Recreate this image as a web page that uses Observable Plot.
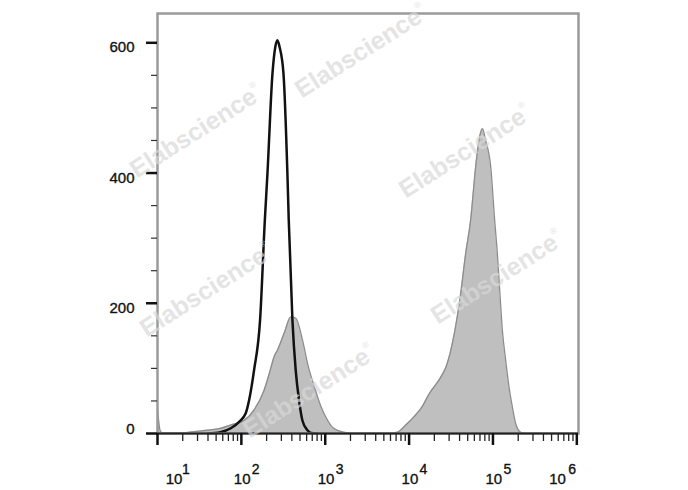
<!DOCTYPE html>
<html><head><meta charset="utf-8">
<script src="https://cdn.jsdelivr.net/npm/d3@7"></script>
<script src="https://cdn.jsdelivr.net/npm/@observablehq/plot@0.6"></script>
<style>
body{margin:0;background:#fff;}
#wrap{position:relative;width:688px;height:490px;overflow:hidden;font-family:"Liberation Sans",Arial,sans-serif;}
#wrap svg{display:block;}
.wm{position:absolute;font-weight:bold;font-size:25px;color:#d9d9d9;opacity:0.69;white-space:nowrap;transform:translate(-50%,-50%) rotate(-32.5deg);pointer-events:none;font-family:"Liberation Sans",Arial,sans-serif;}
.wm sup{font-size:9px;font-weight:normal;vertical-align:14px;}
</style></head><body><div id="wrap"></div>
<script>
// Isotype control (black outline): log10 fluorescence, count
const isoLog   = [1.60, 1.75, 1.874, 1.973, 2.052, 2.092, 2.151, 2.223, 2.28, 2.311, 2.371, 2.405, 2.43, 2.455, 2.502, 2.549, 2.565, 2.609, 2.648, 2.688, 2.728, 2.788, 2.83, 2.90];
const isoCount = [0,    2,    8,     18,    31,    51,    97,    174,   328,  399,   553,   594,   604,  594,   553,   399,   328,   174,   97,    51,    20,    5,     1,    0];

// Stained sample (gray filled): log10 fluorescence, count
const stainLog   = [1.0, 1.012, 1.03, 1.06, 1.30, 1.44, 1.60, 1.75, 1.87, 2.03, 2.15, 2.27, 2.35, 2.39, 2.43, 2.51, 2.59, 2.65, 2.73, 2.79, 2.87, 2.95, 3.03, 3.10, 3.22, 3.35, 3.75, 3.86, 3.96, 4.06, 4.15, 4.24, 4.38, 4.44, 4.54, 4.615, 4.675, 4.734, 4.794, 4.833, 4.874, 4.913, 4.973, 5.02, 5.052, 5.083, 5.112, 5.151, 5.191, 5.231, 5.271, 5.33, 5.38];
const stainCount = [38,  22,    5,    1,    1,    3,    5,    8,    13,   20,   36,   66,   100,  118,  128,  154,  179,  177,  143,  107,  72,   41,   20,   8,    2,    0,    0,    2,    13,   26,   40,   61,   87,   102,  154,  215,   277,   328,   410,   450,   468,   450,   410,   328,  277,   215,   159,   113,   72,    41,    15,    2,    0];

// Axis ticks and labels
const xExponents = [1, 2, 3, 4, 5, 6];
const xMinorMultipliers = [2, 3, 4, 5, 6, 7, 8, 9];
const xMinorDecades = [1, 2, 3, 4, 5];
const yMajor = [0, 200, 400, 600];
const yMinor = [50, 100, 150, 250, 300, 350, 450, 500, 550];
const xBaseLabel = "10";
const watermark = "Elabscience";

const iso = isoLog.map((l, i) => ({x: 10 ** l, y: isoCount[i]}));
const stain = stainLog.map((l, i) => ({x: 10 ** l, y: stainCount[i]}));
const xMajorVals = xExponents.map(e => 10 ** e);
const xMinorVals = xMinorDecades.flatMap(d => xMinorMultipliers.map(m => m * 10 ** d));

const font = "Liberation Sans, Arial, sans-serif";
const txt = {fill: "#111", stroke: "#111", strokeWidth: 0.35};

const chart = Plot.plot({
  width: 688,
  height: 490,
  marginLeft: 157,
  marginRight: 110,
  marginTop: 13,
  marginBottom: 57,
  style: {fontFamily: font, background: "#fff"},
  x: {type: "log", domain: [10, 10 ** 6.02]},
  y: {domain: [0, 645]},
  marks: [
    Plot.areaY(stain, {x: "x", y: "y", fill: "#bfbfbf", curve: "monotone-x"}),
    Plot.lineY(stain, {x: "x", y: "y", stroke: "#8c8c8c", strokeWidth: 1.3, curve: "monotone-x"}),
    Plot.lineY(iso, {x: "x", y: "y", stroke: "#111", strokeWidth: 2.5, curve: "monotone-x"}),
    Plot.frame({stroke: "#9a9a9a", strokeWidth: 2.5}),
    Plot.ruleY([0], {stroke: "#222", strokeWidth: 2}),
    // y ticks
    Plot.axisY(yMinor, {tickSize: 6, stroke: "#333", strokeWidth: 1.2, tickFormat: () => "", label: null}),
    Plot.axisY(yMajor, {tickSize: 11, stroke: "#111", strokeWidth: 2.5, tickFormat: () => "", label: null}),
    Plot.text(yMajor.filter(v => v !== 0), {y: d => d, text: d => String(d), frameAnchor: "left", textAnchor: "end", dx: -23, dy: 4.7, fontSize: 15, ...txt}),
    Plot.text(yMajor.filter(v => v === 0), {y: d => d, text: d => String(d), frameAnchor: "left", textAnchor: "end", dx: -23, dy: -4.7, fontSize: 15, ...txt}),
    // x ticks
    Plot.axisX(xMinorVals, {tickSize: 8, stroke: "#222", strokeWidth: 1.3, tickFormat: () => "", label: null}),
    Plot.axisX(xMajorVals, {tickSize: 12, stroke: "#111", strokeWidth: 2.5, tickFormat: () => "", label: null}),
    // x labels: base "10"
    Plot.text(xExponents.filter(e => e === 1), {x: e => 10 ** e, text: () => xBaseLabel, frameAnchor: "bottom", lineAnchor: "bottom", dy: 50, dx: 16.6, fontSize: 15, ...txt}),
    Plot.text(xExponents.filter(e => e > 1 && e < 6), {x: e => 10 ** e, text: () => xBaseLabel, frameAnchor: "bottom", lineAnchor: "bottom", dy: 50, dx: 0.8, fontSize: 15, ...txt}),
    Plot.text(xExponents.filter(e => e === 6), {x: e => 10 ** e, text: () => xBaseLabel, frameAnchor: "bottom", lineAnchor: "bottom", dy: 50, dx: -19.3, fontSize: 15, ...txt}),
    // x labels: exponents
    Plot.text(xExponents.filter(e => e === 1), {x: e => 10 ** e, text: e => String(e), frameAnchor: "bottom", lineAnchor: "bottom", textAnchor: "start", dy: 40, dx: 24.5, fontSize: 14, ...txt}),
    Plot.text(xExponents.filter(e => e > 1 && e < 6), {x: e => 10 ** e, text: e => String(e), frameAnchor: "bottom", lineAnchor: "bottom", textAnchor: "start", dy: 40, dx: 10.5, fontSize: 14, ...txt}),
    Plot.text(xExponents.filter(e => e === 6), {x: e => 10 ** e, text: e => String(e), frameAnchor: "bottom", lineAnchor: "bottom", textAnchor: "start", dy: 40, dx: -8.5, fontSize: 14, ...txt})
  ]
});

const wrap = document.getElementById("wrap");
wrap.appendChild(chart);

// decorative watermark overlay (centers in page pixels)
const wmCenters = [[361, 51], [196, 131], [465, 151], [206, 290], [497, 277], [309, 391]];
for (const [cx, cy] of wmCenters) {
  const d = document.createElement("div");
  d.className = "wm";
  d.style.left = cx + "px";
  d.style.top = cy + "px";
  d.innerHTML = watermark + "<sup>&reg;</sup>";
  wrap.appendChild(d);
}
</script>
</body></html>
